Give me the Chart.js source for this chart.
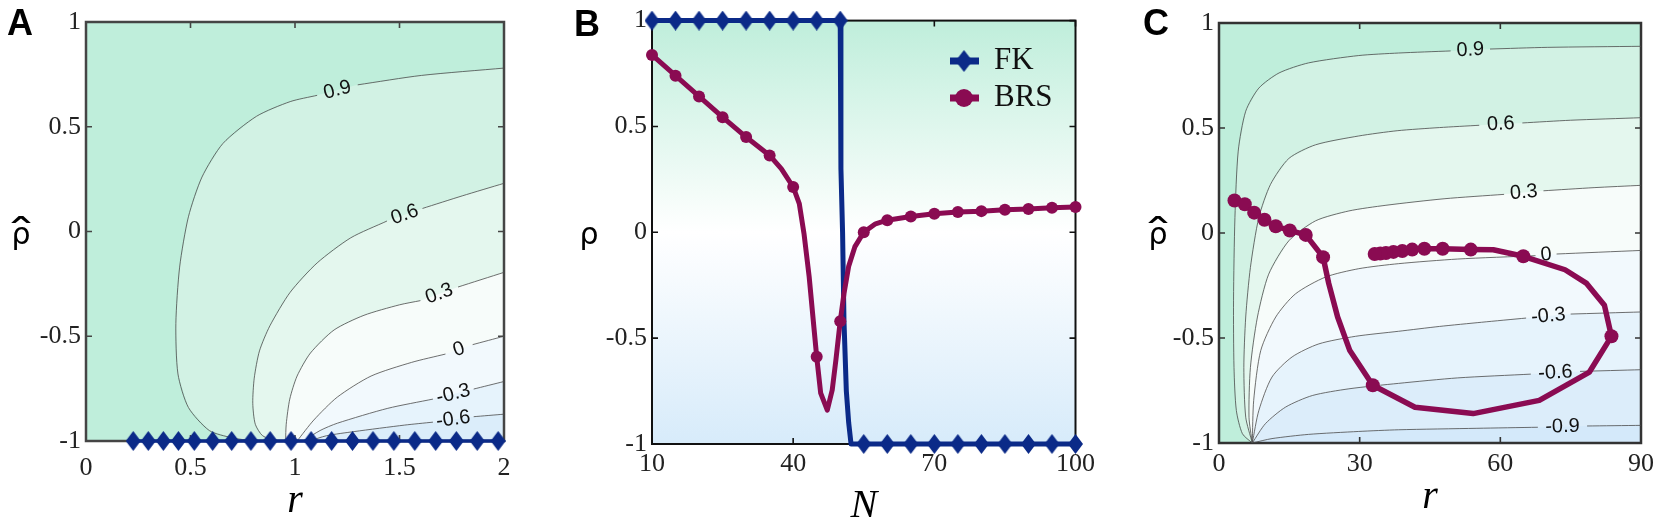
<!DOCTYPE html>
<html lang="en">
<head>
<meta charset="UTF-8">
<title>FK and BRS correlation</title>
<script src="https://cdn.jsdelivr.net/npm/chart.js"></script>
<style>
  body { margin: 0; background: #fff; }
  canvas { position: absolute; top: 0; }
</style>
</head>
<body>
<canvas id="panelA" width="545" height="522" style="left:0px"></canvas>
<canvas id="panelB" width="555" height="522" style="left:545px"></canvas>
<canvas id="panelC" width="561" height="522" style="left:1100px"></canvas>
<script>
// ---------- data ----------
const yTicks = [-1, -0.5, 0, 0.5, 1];

// panel A
const xTicksA = [0, 0.5, 1, 1.5, 2];
const rFK_A = [0.226, 0.298, 0.370, 0.442, 0.518, 0.606, 0.697, 0.789, 0.881, 0.981,
               1.077, 1.175, 1.275, 1.373, 1.473, 1.573, 1.673, 1.772, 1.872, 1.972];
const rhoFK_A = [-1, -1, -1, -1, -1, -1, -1, -1, -1, -1,
                 -1, -1, -1, -1, -1, -1, -1, -1, -1, -1];
const levelsA = ['-0.6', '-0.3', '0', '0.3', '0.6', '0.9'];
const contA_m06 = [[1.07, -1], [1.15, -0.975], [1.283, -0.955], [1.525, -0.924], [1.66, -0.91], null,
                   [1.855, -0.884], [2.0, -0.872]];
const contA_m03 = [[1.04, -1], [1.12, -0.95], [1.203, -0.915], [1.444, -0.844], [1.66, -0.80], null,
                   [1.855, -0.752], [2.0, -0.716]];
const contA_00 = [[1.01, -1], [1.09, -0.90], [1.203, -0.79], [1.364, -0.69], [1.557, -0.625], [1.72, -0.585], null,
                  [1.85, -0.54], [2.0, -0.50]];
const contA_03 = [[0.955, -1], [0.958, -0.92], [0.975, -0.80], [1.01, -0.69], [1.074, -0.58], [1.187, -0.47],
                  [1.33, -0.40], [1.50, -0.35], [1.60, -0.33], null, [1.78, -0.265], [2.0, -0.195]];
const contA_06 = [[0.91, -1], [0.845, -0.975], [0.81, -0.92], [0.798, -0.82], [0.805, -0.70], [0.83, -0.57],
                  [0.88, -0.45], [0.977, -0.29], [1.106, -0.15], [1.267, -0.03], [1.44, 0.05], null,
                  [1.61, 0.11], [1.80, 0.17], [2.0, 0.23]];
const contA_09 = [[0.80, -1], [0.70, -0.985], [0.59, -0.95], [0.49, -0.84], [0.44, -0.68], [0.43, -0.44],
                  [0.448, -0.17], [0.49, 0.07], [0.555, 0.26], [0.655, 0.42], [0.816, 0.55], [0.977, 0.62],
                  [1.106, 0.65], null, [1.30, 0.70], [1.605, 0.745], [2.0, 0.78]];
const contoursA = [contA_m06, contA_m03, contA_00, contA_03, contA_06, contA_09];

// panel B
const xTicksB = [10, 40, 70, 100];
const nFK = [10, 15, 20, 25, 30, 35, 40, 45, 50, 50.15, 50.5, 50.8, 51.3, 51.8, 52.3,
             55, 60, 65, 70, 75, 80, 85, 90, 95, 100];
const rhoFK = [1, 1, 1, 1, 1, 1, 1, 1, 1, 0.3, 0, -0.42, -0.75, -0.9, -1,
               -1, -1, -1, -1, -1, -1, -1, -1, -1, -1];
const nBRS = [10, 15, 20, 25, 30, 35, 37.5, 40, 41.3, 42.3, 43.4, 44.4, 45, 45.85, 47.25, 48.3, 49.1,
              50, 50.8, 51.8, 53.1, 55, 57.5, 60, 65, 70, 75, 80, 85, 90, 95, 100];
const rhoBRS = [0.838, 0.74, 0.642, 0.544, 0.45, 0.363, 0.30, 0.214, 0.135, -0.006, -0.21, -0.447, -0.588,
                -0.76, -0.84, -0.745, -0.60, -0.42, -0.29, -0.16, -0.069, 0.0, 0.04, 0.057, 0.075, 0.088,
                0.096, 0.10, 0.107, 0.11, 0.116, 0.119];

// panel C
const xTicksC = [0, 30, 60, 90];
const rTraj = [3.3, 5.5, 7.5, 9.7, 12.1, 15.1, 18.5, 22.2, 23.4, 25.3, 27.9, 32.8, 41.8, 54.2, 68.3, 79.0,
               83.7, 82.2, 78.4, 73.8, 64.9, 58.5, 53.7, 47.7, 43.8, 41.2, 39.1, 37.2, 35.6, 34.4, 33.2];
const rhoTraj = [0.155, 0.137, 0.097, 0.063, 0.032, 0.012, -0.009, -0.115, -0.24, -0.40, -0.56, -0.725,
                 -0.83, -0.86, -0.797, -0.662, -0.492, -0.344, -0.24, -0.175, -0.111, -0.08, -0.079,
                 -0.075, -0.075, -0.079, -0.086, -0.09, -0.095, -0.098, -0.10];
const markTraj = [1, 1, 1, 1, 1, 1, 1, 1, 0, 0, 0, 1, 0, 0, 0, 0, 1, 0, 0, 0, 1, 0, 1, 1, 1, 1, 1, 1, 1, 1, 1];
const levelsC = ['-0.9', '-0.6', '-0.3', '0', '0.3', '0.6', '0.9'];
const contC_m09 = [[7.1, -1], [11.3, -0.979], [19.1, -0.959], [29.8, -0.945], [38.3, -0.937], [55, -0.93],
                   [68, -0.925], null, [78.5, -0.919], [90, -0.916]];
const contC_m06 = [[7.1, -1], [9.9, -0.908], [14.2, -0.829], [19.9, -0.774], [27.7, -0.742], [38.3, -0.716],
                   [50.9, -0.69], [66.5, -0.672], null, [77, -0.659], [90, -0.651]];
const contC_m03 = [[7.1, -1], [8.5, -0.845], [11.3, -0.686], [15.6, -0.59], [21.3, -0.528], [29.1, -0.492],
                   [38.3, -0.468], [47, -0.445], [56, -0.425], [65.5, -0.405], null, [75, -0.386], [90, -0.376]];
const contC_00 = [[7.1, -1], [7.4, -0.797], [8.9, -0.56], [12.1, -0.40], [16.3, -0.29], [22.7, -0.21],
                  [29.8, -0.17], [38.3, -0.146], [50.9, -0.124], [67.5, -0.108], null, [72, -0.10], [90, -0.083]];
const contC_03 = [[7.1, -1], [6.4, -0.877], [6.7, -0.64], [8.2, -0.40], [10.6, -0.196], [14.9, -0.037],
                  [20.6, 0.058], [27.7, 0.105], [35.6, 0.132], [48, 0.163], [60.8, 0.184], null,
                  [69.2, 0.201], [80, 0.216], [90, 0.227]];
const contC_06 = [[7.1, -1], [5.7, -0.877], [5.3, -0.64], [5.7, -0.40], [6.7, -0.164], [8.5, 0.074],
                  [11.0, 0.232], [14.9, 0.355], [20.6, 0.42], [29.8, 0.462], [38, 0.487], [47, 0.502],
                  [55.5, 0.513], null, [64.7, 0.524], [75, 0.537], [90, 0.549]];
const contC_09 = [[7.1, -1], [5.0, -0.956], [3.7, -0.845], [3.2, -0.64], [3.1, -0.32], [3.4, 0.074],
                  [4.1, 0.39], [5.7, 0.58], [8.5, 0.69], [12.8, 0.762], [19.1, 0.81], [29.8, 0.845],
                  [38.3, 0.857], [49.4, 0.867], null, [57.8, 0.876], [70, 0.884], [90, 0.889]];
const contoursC = [contC_m09, contC_m06, contC_m03, contC_00, contC_03, contC_06, contC_09];

// ---------- styling ----------
const NAVY = '#0b2a88';
const MAROON = '#8a0b52';
const SERIF = '"Liberation Serif", "Times New Roman", serif';
Chart.defaults.font.family = SERIF;
// fill below the lowest level, then one colour above each level
const bandsA = ['#dbedfa', '#e6f3fc', '#f2f9fd', '#f7fcfa', '#e4f7ee', '#d2f2e4', '#bfeedb'];
const bandsC = ['#d4e9fa', '#dcedfa', '#e6f3fc', '#f2f9fd', '#f7fcfa', '#e4f7ee', '#d2f2e4', '#bfeedb'];

function diamond(w, h, color) {
    const c = document.createElement('canvas');
    c.width = w; c.height = h;
    const g = c.getContext('2d');
    g.fillStyle = color;
    g.beginPath();
    g.moveTo(w / 2, 0); g.lineTo(w, h / 2); g.lineTo(w / 2, h); g.lineTo(0, h / 2);
    g.closePath(); g.fill();
    return c;
}
const diaSmall = diamond(15, 20, NAVY);
const diaLegend = diamond(17, 22, NAVY);

const xy = (xs, ys) => xs.map((v, i) => ({x: v, y: ys[i]}));
const contourData = c => c.map((p, i) => p ? {x: p[0], y: p[1]} : {x: c[i - 1][0], y: null});

function contourSets(list, levels) {
    return list.map((c, i) => ({
        data: contourData(c),
        contourLabel: levels[i],
        showLine: true,
        borderColor: '#4a4a4a',
        borderWidth: 0.8,
        tension: 0.25,
        pointRadius: 0,
        order: 5
    }));
}

function axes(xr, xTicks, yWidth, xHeight, xPad) {
    const tickFont = {family: SERIF, size: 26};
    const common = {
        type: 'linear',
        grid: {display: false, drawTicks: false},
        border: {display: false}
    };
    return {
        x: Object.assign({}, common, {
            min: xr[0], max: xr[1],
            afterBuildTicks: s => { s.ticks = xTicks.map(v => ({value: v})); },
            afterFit: s => { s.height = xHeight; },
            ticks: {font: tickFont, color: '#222', padding: xPad, maxRotation: 0, autoSkip: false,
                    callback: v => String(v)}
        }),
        y: Object.assign({}, common, {
            min: -1, max: 1,
            afterBuildTicks: s => { s.ticks = yTicks.map(v => ({value: v})); },
            afterFit: s => { s.width = yWidth; },
            ticks: {font: tickFont, color: '#222', padding: 5, autoSkip: false,
                    callback: v => String(v)}
        })
    };
}

// per-panel decorations (kept outside chart options)
const extras = {
    panelA: {letter: ['A', 7, 35], xTitle: ['r', 512], yTitle: [21, 244, true],
             frame: '#454545', frameWidth: 2.5, bands: [contoursA, bandsA]},
    panelB: {letter: ['B', 29, 36], xTitle: ['N', 517], yTitle: [44, 244, false],
             frame: '#111', frameWidth: 2,
             gradient: [[0, '#bfeedb'], [0.5, '#ffffff'], [1, '#d7ebfa']], legend: true},
    panelC: {letter: ['C', 43, 35], xTitle: ['r', 508], yTitle: [58, 244, true],
             frame: '#333', frameWidth: 2.5, bands: [contoursC, bandsC]}
};

const panelPlugin = {
    id: 'panel',
    beforeDatasetsDraw(chart) {
        const o = extras[chart.canvas.id];
        const {ctx, chartArea: a, scales: {x, y}} = chart;
        ctx.save();
        ctx.beginPath();
        ctx.rect(a.left, a.top, a.width, a.height);
        ctx.clip();
        if (o.gradient) {
            const g = ctx.createLinearGradient(0, a.top, 0, a.bottom);
            o.gradient.forEach(([s, c]) => g.addColorStop(s, c));
            ctx.fillStyle = g;
            ctx.fillRect(a.left, a.top, a.width, a.height);
        }
        if (o.bands) {
            const [list, colors] = o.bands;
            ctx.fillStyle = colors[0];
            ctx.fillRect(a.left, a.top, a.width, a.height);
            list.forEach((c, i) => {
                ctx.beginPath();
                ctx.moveTo(x.getPixelForValue(x.min), y.getPixelForValue(y.min));
                c.filter(p => p).forEach(p => ctx.lineTo(x.getPixelForValue(p[0]), y.getPixelForValue(p[1])));
                ctx.lineTo(x.getPixelForValue(x.max), y.getPixelForValue(y.max));
                ctx.lineTo(x.getPixelForValue(x.min), y.getPixelForValue(y.max));
                ctx.closePath();
                ctx.fillStyle = colors[i + 1];
                ctx.fill();
            });
        }
        ctx.restore();

        // frame and inward ticks on all four sides
        ctx.save();
        ctx.strokeStyle = o.frame;
        ctx.lineWidth = o.frameWidth;
        ctx.strokeRect(a.left, a.top, a.width, a.height);
        ctx.lineWidth = 1.6;
        ctx.beginPath();
        x.ticks.forEach(t => {
            const px = x.getPixelForValue(t.value);
            ctx.moveTo(px, a.bottom); ctx.lineTo(px, a.bottom - 6);
            ctx.moveTo(px, a.top); ctx.lineTo(px, a.top + 6);
        });
        y.ticks.forEach(t => {
            const py = y.getPixelForValue(t.value);
            ctx.moveTo(a.left, py); ctx.lineTo(a.left + 6, py);
            ctx.moveTo(a.right, py); ctx.lineTo(a.right - 6, py);
        });
        ctx.stroke();
        ctx.restore();
    },
    afterDatasetDraw(chart, args) {
        const ds = chart.data.datasets[args.index];
        if (!ds.contourLabel) return;
        const {ctx, scales: {x, y}} = chart;
        const d = ds.data;
        const gi = d.findIndex(p => p.y === null);
        const p0 = d[gi - 1], p1 = d[gi + 1];
        const x0 = x.getPixelForValue(p0.x), y0 = y.getPixelForValue(p0.y);
        const x1 = x.getPixelForValue(p1.x), y1 = y.getPixelForValue(p1.y);
        ctx.save();
        ctx.translate((x0 + x1) / 2, (y0 + y1) / 2);
        ctx.rotate(Math.atan2(y1 - y0, x1 - x0));
        ctx.font = '20px "Liberation Sans"';
        ctx.fillStyle = '#111';
        ctx.textAlign = 'center';
        ctx.textBaseline = 'middle';
        ctx.fillText(ds.contourLabel, 0, 0);
        ctx.restore();
    },
    afterDraw(chart) {
        const o = extras[chart.canvas.id];
        const {ctx, chartArea: a} = chart;
        ctx.save();
        ctx.fillStyle = '#000';
        // panel letter
        ctx.font = 'bold 36px "Liberation Sans"';
        ctx.textAlign = 'left';
        ctx.textBaseline = 'alphabetic';
        ctx.fillText(o.letter[0], o.letter[1], o.letter[2]);
        // x title
        ctx.font = 'italic 40px ' + SERIF;
        ctx.textAlign = 'center';
        ctx.fillText(o.xTitle[0], (a.left + a.right) / 2, o.xTitle[1]);
        // y title (horizontal rho, optionally with a hat)
        const [cx, base, hat] = o.yTitle;
        ctx.font = '30px "DejaVu Sans"';
        ctx.fillText('ρ', cx, base);
        if (hat) {
            ctx.save();
            ctx.translate(cx, base + 2);
            ctx.scale(2.1, 1.25);
            ctx.font = '30px "DejaVu Sans"';
            ctx.fillText('ˆ', 0, 0);
            ctx.restore();
        }
        // legend for panel B
        if (o.legend) {
            const rows = [['FK', 61, NAVY], ['BRS', 98, MAROON]];
            rows.forEach(([label, ly, col], i) => {
                ctx.strokeStyle = col;
                ctx.lineWidth = 7;
                ctx.beginPath();
                ctx.moveTo(405, ly); ctx.lineTo(434, ly);
                ctx.stroke();
                if (i === 0) {
                    ctx.drawImage(diaLegend, 419 - diaLegend.width / 2, ly - diaLegend.height / 2);
                } else {
                    ctx.fillStyle = col;
                    ctx.beginPath();
                    ctx.arc(419, ly, 9, 0, Math.PI * 2);
                    ctx.fill();
                }
                ctx.fillStyle = '#111';
                ctx.font = '31px ' + SERIF;
                ctx.textAlign = 'left';
                ctx.textBaseline = 'middle';
                ctx.fillText(label, 449, ly);
            });
        }
        ctx.restore();
    }
};
Chart.register(panelPlugin);

const baseOptions = (scales, pad) => ({
    responsive: false,
    animation: false,
    events: [],
    layout: {padding: pad},
    scales: scales,
    plugins: {legend: {display: false}, tooltip: {enabled: false}}
});

// ---------- panel A ----------
new Chart(document.getElementById('panelA'), {
    type: 'scatter',
    data: {
        datasets: contourSets(contoursA, levelsA).concat([{
            data: xy(rFK_A, rhoFK_A),
            showLine: true,
            borderColor: NAVY,
            borderWidth: 3.5,
            pointStyle: diaSmall,
            pointRadius: 8,
            clip: false,
            order: 0
        }])
    },
    options: baseOptions(axes([0, 2], xTicksA, 86, 81, 12), {top: 22, right: 41, left: 0, bottom: 0})
});

// ---------- panel B ----------
new Chart(document.getElementById('panelB'), {
    type: 'scatter',
    data: {
        datasets: [{
            data: xy(nFK, rhoFK),
            showLine: true,
            borderColor: NAVY,
            borderWidth: 5,
            borderJoinStyle: 'round',
            pointStyle: diaSmall,
            pointRadius: c => (nFK[c.dataIndex] % 5 === 0 ? 8 : 0),
            clip: false,
            order: 2
        }, {
            data: xy(nBRS, rhoBRS),
            showLine: true,
            borderColor: MAROON,
            borderWidth: 5,
            borderJoinStyle: 'round',
            pointStyle: 'circle',
            pointBackgroundColor: MAROON,
            pointBorderWidth: 0,
            pointRadius: c => (nBRS[c.dataIndex] % 5 === 0 ? 6 : 0),
            clip: false,
            order: 1
        }]
    },
    options: baseOptions(axes([10, 100], xTicksB, 107, 78, 5), {top: 20, right: 22, left: 0, bottom: 0})
});

// ---------- panel C ----------
new Chart(document.getElementById('panelC'), {
    type: 'scatter',
    data: {
        datasets: contourSets(contoursC, levelsC).concat([{
            data: xy(rTraj, rhoTraj),
            showLine: true,
            borderColor: MAROON,
            borderWidth: 5.5,
            borderJoinStyle: 'round',
            pointStyle: 'circle',
            pointBackgroundColor: MAROON,
            pointBorderWidth: 0,
            pointRadius: c => (markTraj[c.dataIndex] ? 7 : 0),
            clip: false,
            order: 0
        }])
    },
    options: baseOptions(axes([0, 90], xTicksC, 119, 79, 6), {top: 23, right: 20, left: 0, bottom: 0})
});
</script>
</body>
</html>
